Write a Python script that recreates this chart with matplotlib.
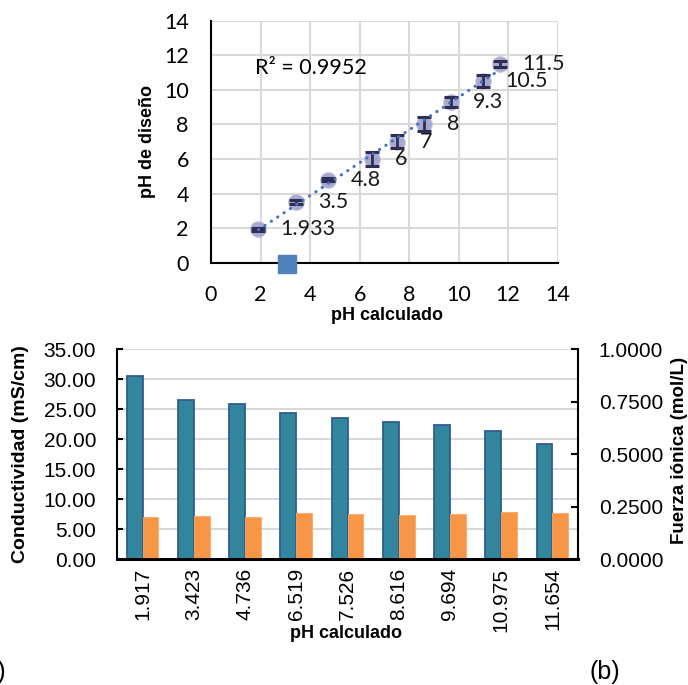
import numpy as np
import matplotlib
matplotlib.use("Agg")
import matplotlib.pyplot as plt
from matplotlib.ticker import FormatStrFormatter

# ---------------- data ----------------
ph_calculado = [1.917, 3.423, 4.736, 6.519, 7.526, 8.616, 9.694, 10.975, 11.654]
ph_diseno = [1.933, 3.5, 4.8, 6, 7, 8, 9.3, 10.5, 11.5]
ph_diseno_labels = ["1.933", "3.5", "4.8", "6", "7", "8", "9.3", "10.5", "11.5"]
ph_err = [0.08, 0.12, 0.10, 0.39, 0.37, 0.40, 0.29, 0.35, 0.16]
r2_text = "R² = 0.9952"
stray_marker_x = [3.05]
stray_marker_y = [-0.1]

categorias = ["1.917", "3.423", "4.736", "6.519", "7.526", "8.616", "9.694", "10.975", "11.654"]
conductividad = [30.6, 26.56, 25.9, 24.4, 23.56, 22.94, 22.33, 21.33, 19.28]
fuerza_ionica = [0.2017, 0.205, 0.2016, 0.219, 0.214, 0.211, 0.216, 0.224, 0.221]

W, H = 688, 685
fig = plt.figure(figsize=(W / 100, H / 100), dpi=100)

CAL = ["Lato", "DejaVu Sans"]
ARI = ["Liberation Sans", "DejaVu Sans"]
grid_c = "#D9D9D9"

# ---------------- top scatter ----------------
ax = fig.add_axes([211 / W, 1 - 262.7 / H, (557.7 - 211) / W, (262.7 - 20.7) / H])
ax.set_xlim(0, 14)
ax.set_ylim(0, 14)
ax.set_xticks(np.arange(0, 15, 2))
ax.set_yticks(np.arange(0, 15, 2))
ax.grid(True, color=grid_c, lw=1.5, zorder=0)
ax.set_axisbelow(True)
for s in ["top", "right"]:
    ax.spines[s].set_visible(False)
for s in ["left", "bottom"]:
    ax.spines[s].set_color("black")
    ax.spines[s].set_linewidth(1.5)
ax.tick_params(length=0, pad=16, labelsize=15.5)
for lab in ax.get_xticklabels() + ax.get_yticklabels():
    lab.set_family(CAL)

ax.plot(ph_calculado, ph_diseno, "o", ms=11, mfc="#9A9AC8", mec="#B8B8D9",
        mew=1.0, alpha=0.85, ls="none", zorder=3)
ax.errorbar(ph_calculado, ph_diseno, yerr=ph_err, fmt="none",
            ecolor="#2E2E55", elinewidth=2.0, capsize=4.8, capthick=2.2, zorder=4)

coef = np.polyfit(ph_calculado, ph_diseno, 1)
xs = np.array([min(ph_calculado), max(ph_calculado)])
ax.plot(xs, np.polyval(coef, xs), color="#4472C4", lw=2.2,
        linestyle=(0, (0.1, 2.4)), dash_capstyle="round", zorder=5)

for xv, yv, t in zip(ph_calculado, ph_diseno, ph_diseno_labels):
    ax.annotate(t, (xv, yv), xytext=(16, 0), textcoords="offset points",
                ha="left", va="center", fontsize=15.5, family=CAL, color="#1a1a1a")

ax.text(1.78, 11.25, r2_text, fontsize=15.5, family=CAL, ha="left", va="center")

ax.plot(stray_marker_x, stray_marker_y, marker="s", ms=13.5, color="#4F81BD",
        mec="#4F81BD", ls="none", clip_on=False, zorder=6)

ax.set_xlabel("pH calculado", fontsize=13, fontweight="bold", family=ARI)
ax.set_ylabel("pH de diseño", fontsize=13, fontweight="bold", family=ARI)
ax.xaxis.set_label_coords((387 - 211) / (557.7 - 211), (262.7 - 315) / (262.7 - 20.7))
ax.xaxis.label.set_va("center")
ax.yaxis.set_label_coords((147 - 211) / (557.7 - 211), 0.5)
ax.yaxis.label.set_va("center")

# ---------------- bottom bar chart ----------------
bx = fig.add_axes([117 / W, 1 - 559.3 / H, (578 - 117) / W, (559.3 - 349.3) / H])
bx2 = bx.twinx()
idx = np.arange(len(categorias))
w = 0.31
bx.bar(idx - w / 2, conductividad, width=w, color="#31859C", edgecolor="#2F5D8E",
       lw=1.3, zorder=2)
bx2.bar(idx + w / 2, fuerza_ionica, width=w, color="#F79646", edgecolor="#F9A868",
        lw=0.6, zorder=2)

bx.set_xlim(-0.5, len(categorias) - 0.5)
bx.set_ylim(0, 35)
bx2.set_ylim(0, 1.0)
bx.set_yticks(np.arange(0, 36, 5))
bx2.set_yticks(np.arange(0, 1.01, 0.25))
bx.yaxis.set_major_formatter(FormatStrFormatter("%.2f"))
bx2.yaxis.set_major_formatter(FormatStrFormatter("%.4f"))
bx.set_xticks(idx)
bx.set_xticklabels(categorias, rotation=90)
bx.grid(True, axis="y", color=grid_c, lw=1.5, zorder=0)
bx.set_axisbelow(True)

for a in (bx, bx2):
    a.spines["top"].set_visible(False)
    a.spines["left"].set_linewidth(1.5)
    a.spines["right"].set_linewidth(1.5)
    a.spines["bottom"].set_linewidth(2)
bx.spines["right"].set_visible(False)
bx2.spines["left"].set_visible(False)

bx.tick_params(axis="y", direction="in", length=4, width=1.5, pad=15, labelsize=15)
bx2.tick_params(axis="y", direction="in", length=5, width=1.5, pad=15, labelsize=15)
bx.tick_params(axis="x", length=0, pad=6, labelsize=15)
for lab in bx.get_xticklabels() + bx.get_yticklabels() + bx2.get_yticklabels():
    lab.set_family(ARI)

bx.set_xlabel("pH calculado", fontsize=13, fontweight="bold", family=ARI)
bx.xaxis.set_label_coords((346 - 117) / 461, (559.3 - 633) / 210)
bx.xaxis.label.set_va("center")
bx.set_ylabel("Conductividad (mS/cm)", fontsize=14, fontweight="bold", family=ARI)
bx.yaxis.set_label_coords((21 - 117) / 461, 0.5)
bx.yaxis.label.set_va("center")
bx2.set_ylabel("Fuerza iónica (mol/L)", fontsize=13.5, fontweight="bold", family=ARI,
               rotation=90)
bx2.yaxis.set_label_coords((680 - 117) / 461, 0.52)
bx2.yaxis.label.set_va("center")

fig.text(605 / W, 1 - 672 / H, "(b)", fontsize=18, family=ARI, ha="center", va="center")
fig.text(6 / W, 1 - 672 / H, "(a)", fontsize=18, family=ARI, ha="right", va="center")

fig.savefig("out.png", dpi=100)
